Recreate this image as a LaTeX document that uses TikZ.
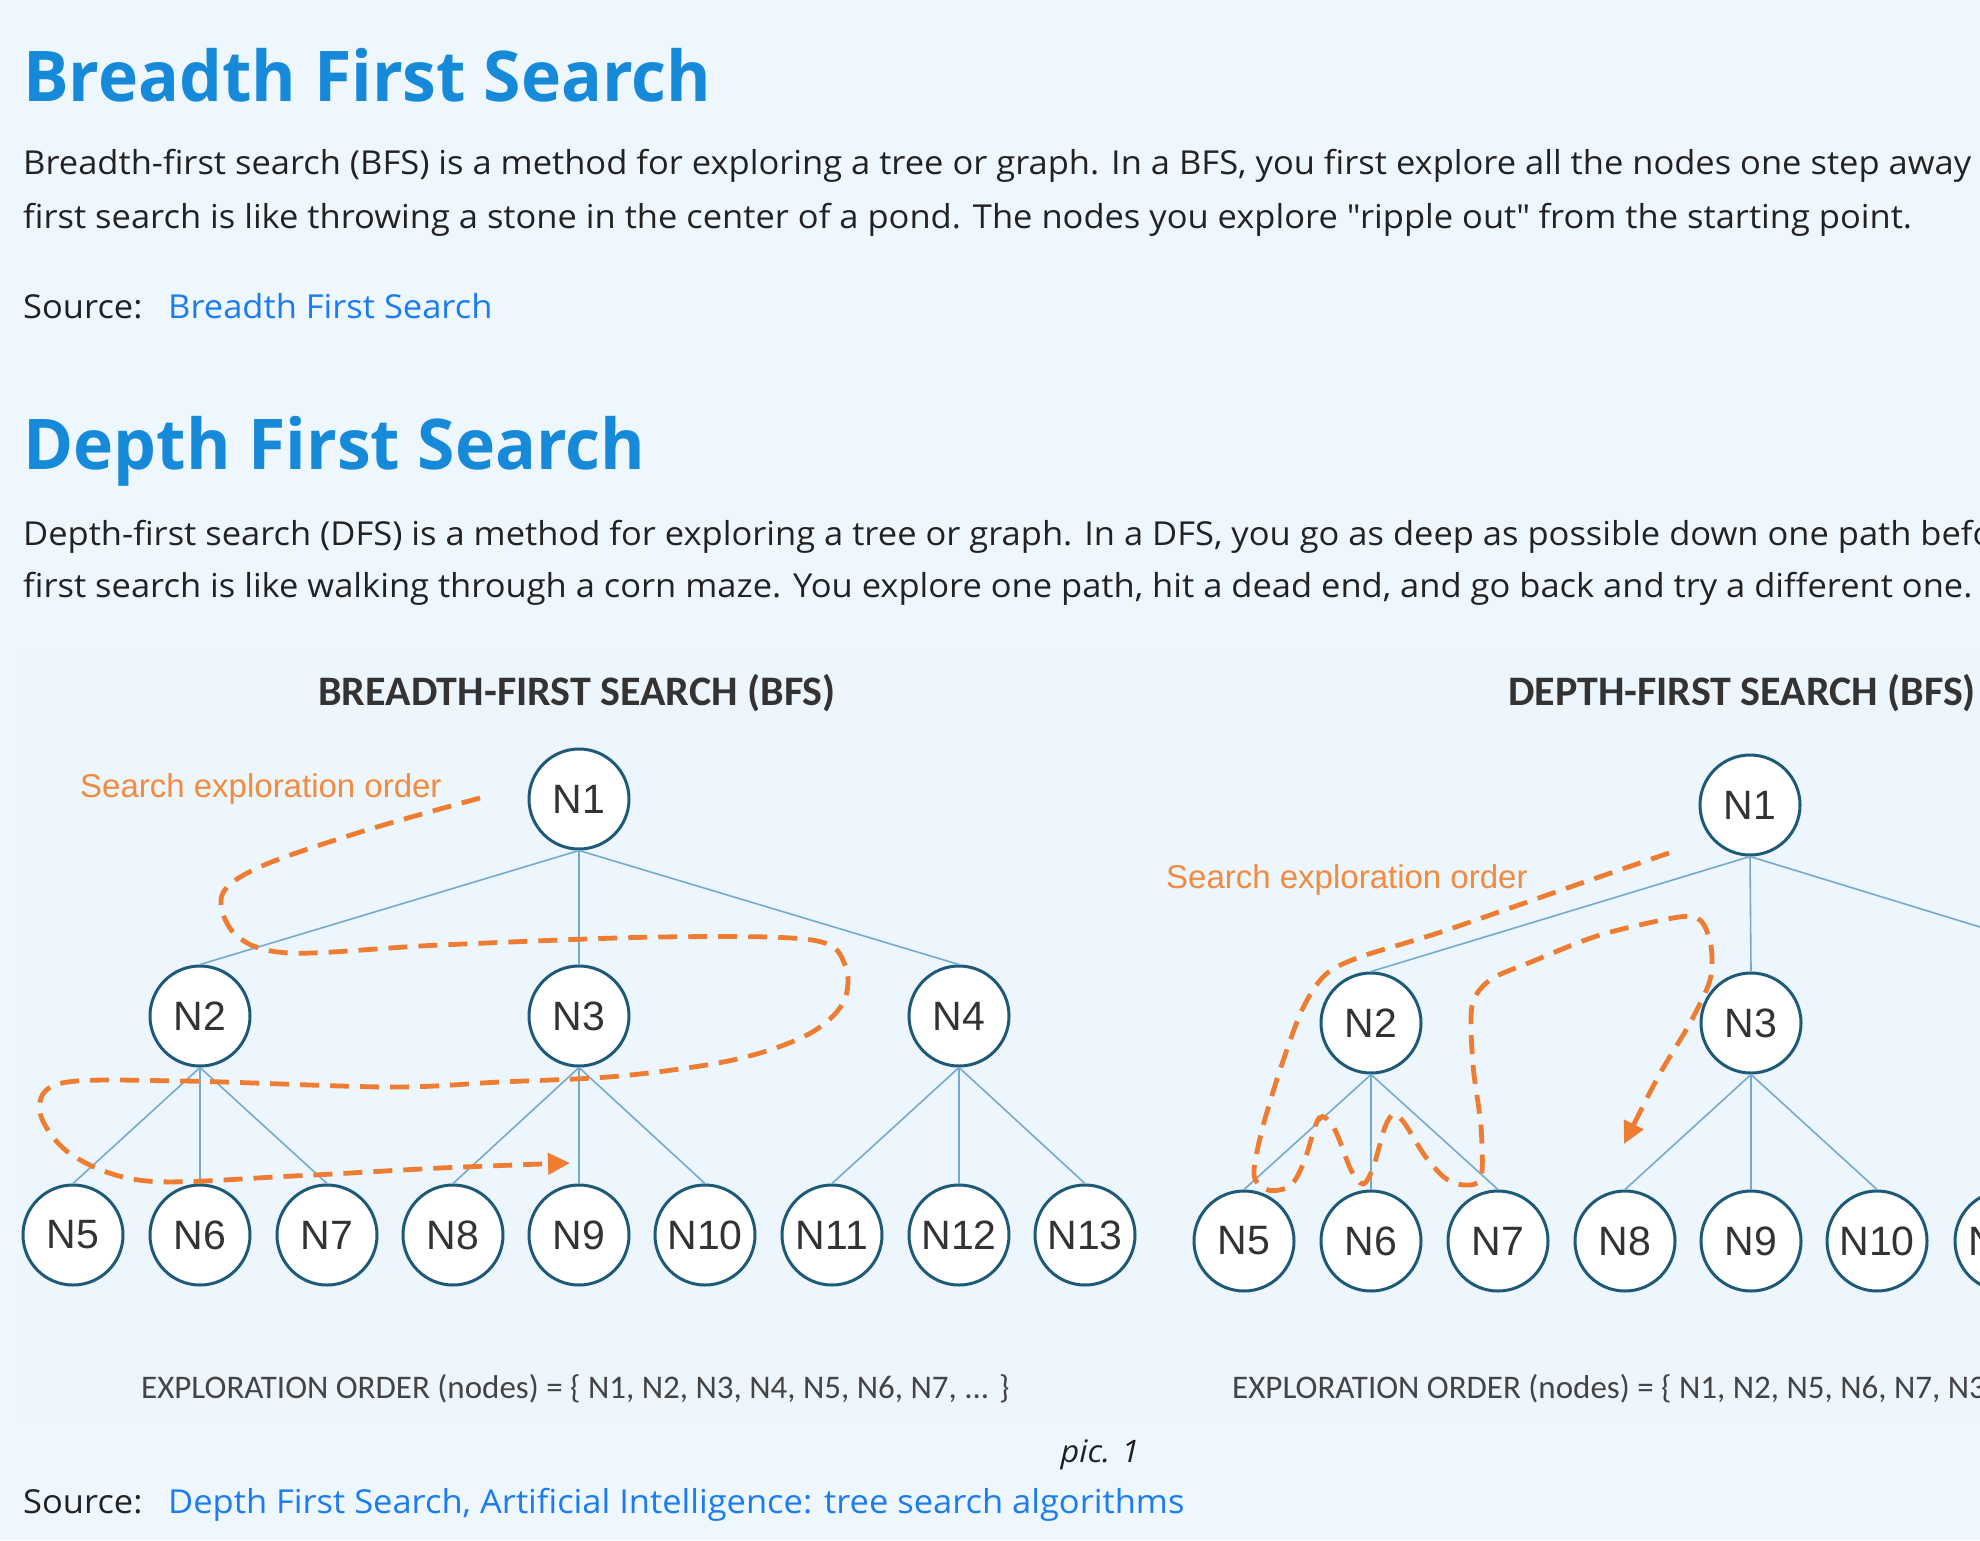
\documentclass[tikz,border=0pt]{standalone}
\usepackage{fontspec}
\setmainfont[FakeStretch=1.045]{Open Sans}
\newfontfamily\headfont[FakeStretch=0.97]{Open Sans}
\newfontfamily\nodefont{Liberation Sans}
\newfontfamily\calfont{Carlito}
\usetikzlibrary{arrows.meta}
\definecolor{pagebg}{HTML}{EFF7FE}
\definecolor{diagbg}{HTML}{EDF5FD}
\definecolor{headblue}{HTML}{1689D9}
\definecolor{linkblue}{HTML}{1B7BF2}
\definecolor{bodytext}{HTML}{222222}
\definecolor{nodeborder}{HTML}{1E5A78}
\definecolor{nodetext}{HTML}{333333}
\definecolor{edgecol}{HTML}{74AACE}
\definecolor{dashorange}{HTML}{EF7D31}
\definecolor{textorange}{HTML}{F18B40}
\definecolor{ordergray}{HTML}{444444}
\begin{document}
\begin{tikzpicture}[x=1pt,y=-1pt,
  heading/.style={anchor=base west, inner sep=0pt, text=headblue, font=\headfont\bfseries\fontsize{70}{80}\selectfont},
  body/.style={anchor=base west, inner sep=0pt, text=bodytext, font=\fontsize{33}{38}\selectfont},
  link/.style={anchor=base west, inner sep=0pt, text=linkblue, font=\fontsize{33}{38}\selectfont},
  dtitle/.style={anchor=base, inner sep=0pt, text=nodetext, font=\calfont\bfseries\fontsize{42}{44}\selectfont},
  ordertext/.style={anchor=base west, inner sep=0pt, text=ordergray, font=\calfont\fontsize{33}{36}\selectfont},
  seotext/.style={anchor=base west, inner sep=0pt, text=textorange, font=\nodefont\fontsize{33}{36}\selectfont},
  tnode/.style={circle, draw=nodeborder, line width=3pt, fill=white, minimum size=100pt, inner sep=0pt, text=nodetext, font=\nodefont\fontsize{41}{41}\selectfont},
  tedge/.style={draw=edgecol, line width=1.6pt},
  dpath/.style={draw=dashorange, line width=4.8pt, dash pattern=on 19pt off 11pt, line cap=butt},
  tip/.style={-{Triangle[length=22pt,width=21pt]}}
]
\useasboundingbox (0,0) rectangle (1980,1540);
\fill[pagebg] (0,0) rectangle (1980,1540);
\fill[diagbg] (22,650) rectangle (1980,1420);

% ---- text ----
\node[heading] (h1) at (23,101) {Breadth First Search};
\node[body] (p1a) at (23,174) {Breadth-first search (BFS) is a method for exploring a tree or graph. In a BFS, you first explore all the nodes one step away};
\node[body] (p1b) at (23,228) {first search is like throwing a stone in the center of a pond. The nodes you explore \textquotedbl ripple out\textquotedbl{} from the starting point.};
\node[body] (s1) at (23,318) {Source:};
\node[link] (l1) at (168,318) {Breadth First Search};
\node[heading] (h2) at (23,469) {Depth First Search};
\node[body] (p2a) at (23,545) {Depth-first search (DFS) is a method for exploring a tree or graph. In a DFS, you go as deep as possible down one path before};
\node[body] (p2b) at (23,597) {first search is like walking through a corn maze. You explore one path, hit a dead end, and go back and try a different one.};

% ---- BFS diagram ----
\node[dtitle] (bt) at (577,705) {BREADTH-FIRST SEARCH (BFS)};
\node[seotext] (bseo) at (80,797) {Search exploration order};
\node[tnode] (b1) at (579,799) {N1};
\node[tnode] (b2) at (200,1016) {N2};
\node[tnode] (b3) at (579,1016) {N3};
\node[tnode] (b4) at (959,1016) {N4};
\node[tnode] (b5) at (73,1235) {N5};
\node[tnode] (b6) at (200,1235) {N6};
\node[tnode] (b7) at (327,1235) {N7};
\node[tnode] (b8) at (453,1235) {N8};
\node[tnode] (b9) at (579,1235) {N9};
\node[tnode] (b10) at (705,1235) {N10};
\node[tnode] (b11) at (832,1235) {N11};
\node[tnode] (b12) at (959,1235) {N12};
\node[tnode] (b13) at (1085,1235) {N13};
\foreach \c in {2,3,4} \draw[tedge] (b1.south) -- (b\c.north);
\foreach \c in {5,6,7} \draw[tedge] (b2.south) -- (b\c.north);
\foreach \c in {8,9,10} \draw[tedge] (b3.south) -- (b\c.north);
\foreach \c in {11,12,13} \draw[tedge] (b4.south) -- (b\c.north);
\coordinate (bs) at (480,798);
\coordinate (be) at (570,1163);
\draw[dpath,tip] plot[smooth, tension=0.55] coordinates {(bs) (367,830) (262,866) (222,895) (236,935) (290,953) (440,945) (660,937) (812,940) (845,965) (843,1003) (807,1035) (733,1060) (620,1076) (500,1082) (389,1087) (183,1081) (62,1083) (40,1112) (72,1155) (147,1181) (293,1176) (440,1168) (be)};
\node[ordertext] (bo) at (141,1398) {EXPLORATION ORDER (nodes) = \{ N1, N2, N3, N4, N5, N6, N7, ... \}};

% ---- DFS diagram ----
\node[dtitle] (dt) at (1742,705) {DEPTH-FIRST SEARCH (BFS)};
\node[seotext] (dseo) at (1166,888) {Search exploration order};
\node[tnode] (d1) at (1750,805) {N1};
\node[tnode] (d2) at (1371,1023) {N2};
\node[tnode] (d3) at (1751,1023) {N3};
\coordinate (d4top) at (2130,973);
\node[tnode] (d5) at (1244,1241) {N5};
\node[tnode] (d6) at (1371,1241) {N6};
\node[tnode] (d7) at (1498,1241) {N7};
\node[tnode] (d8) at (1625,1241) {N8};
\node[tnode] (d9) at (1751,1241) {N9};
\node[tnode] (d10) at (1877,1241) {N10};
\node[tnode] (d11) at (2005,1241) {N11};
\draw[tedge] (d1.south) -- (d2.north);
\draw[tedge] (d1.south) -- (d3.north);
\draw[tedge] (d1.south) -- (d4top);
\foreach \c in {5,6,7} \draw[tedge] (d2.south) -- (d\c.north);
\foreach \c in {8,9,10} \draw[tedge] (d3.south) -- (d\c.north);
\coordinate (ds) at (1669,853);
\coordinate (de) at (1624,1144);
\draw[dpath,tip] plot[smooth, tension=0.5] coordinates {(ds) (1573,886) (1441,932) (1360,957) (1325,975) (1302,1010) (1280,1070) (1262,1130) (1254,1175) (1268,1190) (1290,1186) (1304,1162) (1319,1118) (1334,1128) (1351,1170) (1363,1184) (1373,1168) (1385,1127) (1394,1114) (1405,1124) (1425,1156) (1445,1178) (1464,1185) (1481,1178) (1481,1127) (1473,1065) (1472,1006) (1490,980) (1531,962) (1600,935) (1679,917) (1701,921) (1711,946) (1710,980) (1690,1023) (1658,1077) (de)};
\node[ordertext] (do) at (1232,1398) {EXPLORATION ORDER (nodes) = \{ N1, N2, N5, N6, N7, N3};

% ---- caption and source ----
\node[anchor=base, inner sep=0pt, text=bodytext, font=\itshape\fontsize{31}{36}\selectfont] (cap) at (1100,1462) {pic. 1};
\node[body] (s2) at (23,1513) {Source:};
\node[link] (l2) at (168,1513) {Depth First Search, Artificial Intelligence: tree search algorithms};
\end{tikzpicture}
\end{document}
